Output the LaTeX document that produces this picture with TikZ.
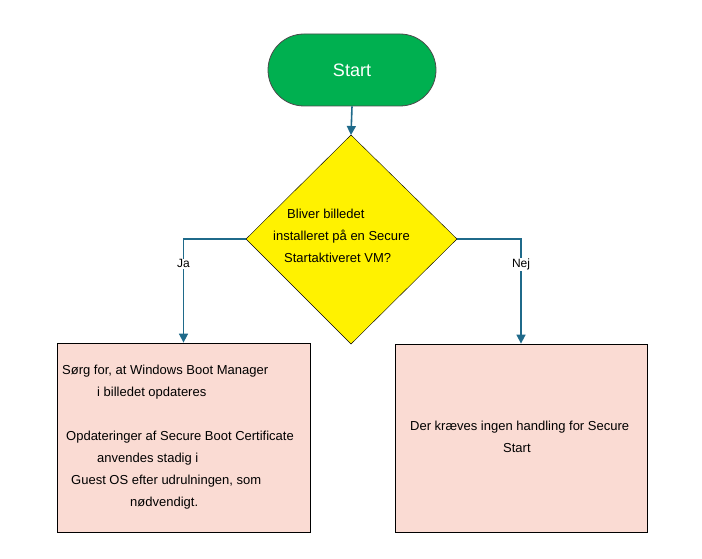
\documentclass[tikz,border=0pt]{standalone}
\usepackage{fontspec}
\setmainfont{Liberation Sans}
\usetikzlibrary{shapes.geometric,arrows.meta}
\definecolor{startgreen}{HTML}{00B050}
\definecolor{flowline}{HTML}{1F6A8A}
\definecolor{boxpeach}{HTML}{FADBD3}
\tikzset{
  flowarrow/.style={flowline, line width=1.6pt, -{Triangle[length=9pt,width=9pt]}},
  txt/.style={anchor=north west, inner sep=0pt, align=left, font=\fontsize{13}{22}\selectfont}
}
\begin{document}
\begin{tikzpicture}[x=1pt,y=-1pt]
\useasboundingbox (0,0) rectangle (702,559);

% start terminal
\node (start) at (352,70) [draw=black!70, thick, fill=startgreen, rounded corners=36pt,
  minimum width=168pt, minimum height=72pt, text=white, font=\fontsize{18}{20}\selectfont] {Start};

% decision
\draw[black, fill=yellow] (351,135) coordinate (dtop) -- (457,239) coordinate (dright)
  -- (351,344) coordinate (dbottom) -- (246,239) coordinate (dleft) -- cycle;
\node (q) at (273,209) [txt] {\hspace*{14pt}Bliver billedet\\installeret på en Secure\\\hspace*{11pt}Startaktiveret VM?};

% boxes
\node (ja) at (183.5,437.5) [draw=black, thick, fill=boxpeach, minimum width=253pt, minimum height=189pt] {};
\node (nej) at (521,438) [draw=black, thick, fill=boxpeach, minimum width=252pt, minimum height=188pt] {};
\node (jatxt) at (62,365) [txt] {Sørg for, at Windows Boot Manager\\\hspace*{35pt}i billedet opdateres\\[22pt]\hspace*{4pt}Opdateringer af Secure Boot Certificate\\\hspace*{35pt}anvendes stadig i\\\hspace*{9pt}Guest OS efter udrulningen, som\\\hspace*{68pt}nødvendigt.};
\node (nejtxt) at (410,421) [txt] {Der kræves ingen handling for Secure\\\hspace*{93pt}Start};

% connectors
\draw[flowarrow] (start.south) -- (dtop);
\draw[flowarrow] (dleft) -| (ja.north) node[pos=0.62, black, font=\fontsize{12}{14}\selectfont, fill=white, inner sep=1pt] {Ja};
\draw[flowarrow] (dright) -| (nej.north) node[pos=0.62, black, font=\fontsize{12}{14}\selectfont, fill=white, inner sep=1pt] {Nej};
\end{tikzpicture}
\end{document}
